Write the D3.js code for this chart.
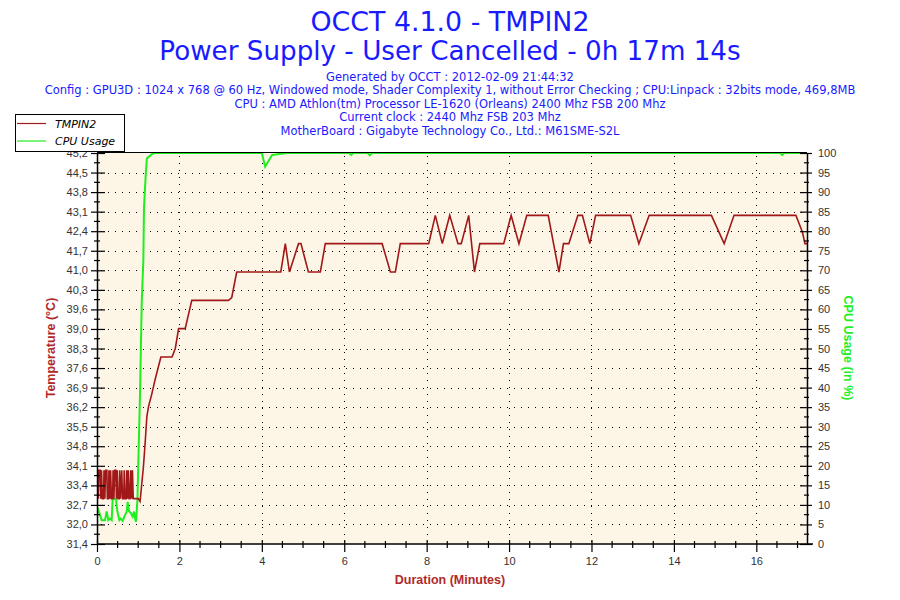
<!DOCTYPE html>
<html>
<head>
<meta charset="utf-8">
<script src="https://cdn.jsdelivr.net/npm/d3@7"></script>
<style>
  body { margin: 0; background: #fff; }
  svg text { font-family: "Liberation Sans", Arial, sans-serif; }
</style>
</head>
<body>
<svg id="chart" width="900" height="600"></svg>
<script>
// ---------- Data ----------
const titleLines = [
  'OCCT 4.1.0 - TMPIN2',
  'Power Supply - User Cancelled - 0h 17m 14s'
];
const infoLines = [
  'Generated by OCCT : 2012-02-09 21:44:32',
  'Config : GPU3D : 1024 x 768 @ 60 Hz, Windowed mode, Shader Complexity 1, without Error Checking ; CPU:Linpack : 32bits mode, 469,8MB',
  'CPU : AMD Athlon(tm) Processor LE-1620 (Orleans) 2400 Mhz FSB 200 Mhz',
  'Current clock : 2440 Mhz FSB 203 Mhz',
  'MotherBoard : Gigabyte Technology Co., Ltd.: M61SME-S2L'
];
const seriesNames = ['TMPIN2', 'CPU Usage'];

const tempTickLabels = ['31,4','32,0','32,7','33,4','34,1','34,8','35,5','36,2','36,9','37,6',
  '38,3','39,0','39,6','40,3','41,0','41,7','42,4','43,1','43,8','44,5','45,2'];
const cpuTickValues = [0,5,10,15,20,25,30,35,40,45,50,55,60,65,70,75,80,85,90,95,100];
const timeTickValues = [0,2,4,6,8,10,12,14,16];

// [minutes, °C]
const tempSeries = [
  [0,34],[0.02,34],[0.03,33],[0.05,34],[0.08,34],[0.09,33],[0.11,34],[0.13,33],[0.16,33],[0.17,34],
  [0.19,33],[0.21,34],[0.24,34],[0.25,33],[0.28,33],[0.29,34],[0.31,33],[0.33,34],[0.35,33],[0.38,33],
  [0.39,34],[0.41,33],[0.43,34],[0.46,34],[0.47,33],[0.49,34],[0.51,33],[0.54,33],[0.55,34],[0.57,33],
  [0.60,34],[0.62,33],[0.65,33],[0.66,34],[0.68,33],[0.71,33],[0.72,34],[0.74,33],[0.76,34],[0.78,33],
  [0.80,33],[0.82,34],[0.84,33],[0.86,34],[0.88,33],[0.92,33],[1.00,33],[1.045,32.9],
  [1.125,34.1],[1.17,35.0],[1.21,35.9],[1.25,36.25],[1.33,36.7],[1.41,37.2],[1.55,38.0],[1.82,38.0],
  [1.90,38.3],[1.98,39.0],[2.14,39.0],[2.30,40.0],[3.19,40.0],[3.27,40.1],[3.39,41.0],[4.46,41.0],
  [4.57,42.0],[4.67,41.0],[4.89,42.0],[4.95,42.0],[5.13,41.0],[5.42,41.0],[5.54,42.0],[6.92,42.0],
  [7.12,41.0],[7.24,41.0],[7.36,42.0],[8.05,42.0],[8.21,43.0],[8.38,42.0],[8.56,43.0],[8.76,42.0],
  [8.84,42.0],[9.02,43.0],[9.16,41.0],[9.29,42.0],[9.87,42.0],[10.05,43.0],[10.24,42.0],[10.43,43.0],
  [10.95,43.0],[11.21,41.0],[11.32,42.0],[11.45,42.0],[11.67,43.0],[11.78,43.0],[11.96,42.0],[12.10,43.0],
  [12.95,43.0],[13.15,42.0],[13.40,43.0],[14.91,43.0],[15.22,42.0],[15.46,43.0],[16.96,43.0],[17.12,42.4],
  [17.18,42.0],[17.23,42.0]
];

// [minutes, %]
const cpuSeries = [
  [0.016,9.2],[0.073,7.4],[0.113,6.1],[0.194,6.1],[0.235,8.3],[0.275,6.1],[0.316,6.5],[0.356,6.1],
  [0.381,11.7],[0.462,11.4],[0.494,8.3],[0.543,6.1],[0.575,6.5],[0.624,5.9],[0.664,7.0],[0.721,8.3],
  [0.745,10.8],[0.778,8.3],[0.818,8.0],[0.867,7.0],[0.899,8.3],[0.932,6.1],[0.948,5.7],[0.981,11.3],
  [1.045,39],[1.086,62],[1.125,72.6],[1.14,86],[1.18,94],[1.21,98.6],[1.33,99.7],[1.41,100],
  [4.00,100],[4.08,96.5],[4.25,99.5],[4.61,100],[6.12,100],[6.17,99.5],[6.22,100],[6.57,100],
  [6.62,99.4],[6.67,100],[16.58,100],[16.63,99.5],[16.68,100],[17.23,100]
];

// ---------- Layout ----------
const CONFIG = {
  left: 97, right: 807, top: 153, bottom: 544,
  plotBg: '#fdf6e7',
  tempColour: '#a01818',
  cpuColour: '#1eef1e',
  titleColour: '#1a1aff',
  axisTitleTemp: '#b02a2a',
  tickColour: '#333'
};

const svg = d3.select('#chart');
const C = CONFIG;

const x = d3.scaleLinear().domain([0, 17.23]).range([C.left, C.right]);
const TEMP_MIN = 31.4, TEMP_MAX = 45.2;
const yTemp = d3.scaleLinear().domain([TEMP_MIN, TEMP_MAX]).range([C.bottom, C.top]);
const yCpu  = d3.scaleLinear().domain([0, 100]).range([C.bottom, C.top]);

const tempStep = (TEMP_MAX - TEMP_MIN) / (tempTickLabels.length - 1);
const tempTickValues = tempTickLabels.map((_, i) => TEMP_MIN + i * tempStep);

// ---------- Titles ----------
svg.selectAll('text.title')
  .data(titleLines)
  .enter().append('text')
    .attr('class', 'title')
    .attr('x', 450)
    .attr('y', (d, i) => 31 + i * 29)
    .attr('text-anchor', 'middle')
    .style('font-family', '"DejaVu Sans", Verdana, sans-serif')
    .style('font-size', (d, i) => i === 0 ? '26.8px' : '26.2px')
    .attr('fill', C.titleColour)
    .text(d => d);

svg.selectAll('text.info')
  .data(infoLines)
  .enter().append('text')
    .attr('class', 'info')
    .attr('x', 450)
    .attr('y', (d, i) => 80.5 + i * 13.6)
    .attr('text-anchor', 'middle')
    .style('font-family', '"DejaVu Sans", Verdana, sans-serif')
    .style('font-size', '11.5px')
    .attr('fill', C.titleColour)
    .text(d => d);

// ---------- Plot background ----------
svg.append('rect')
  .attr('x', C.left).attr('y', C.top)
  .attr('width', C.right - C.left).attr('height', C.bottom - C.top)
  .attr('fill', C.plotBg);

// ---------- Grid (dotted) ----------
const grid = svg.append('g').attr('stroke', '#000').attr('stroke-width', 1)
  .attr('stroke-dasharray', '1,6').attr('shape-rendering', 'crispEdges');

grid.selectAll('line.h')
  .data(tempTickValues.slice(1, -1))
  .enter().append('line')
    .attr('x1', C.left + 4).attr('x2', C.right)
    .attr('y1', d => Math.round(yTemp(d)) + 0.5).attr('y2', d => Math.round(yTemp(d)) + 0.5);

grid.selectAll('line.v')
  .data(timeTickValues.slice(1))
  .enter().append('line')
    .attr('y1', C.top + 3).attr('y2', C.bottom)
    .attr('x1', d => Math.round(x(d)) + 0.5).attr('x2', d => Math.round(x(d)) + 0.5);

// ---------- Series ----------
svg.append('clipPath').attr('id', 'plotClip')
  .append('rect')
    .attr('x', C.left).attr('y', C.top - 2)
    .attr('width', C.right - C.left + 1).attr('height', C.bottom - C.top + 2);

const lineTemp = d3.line().x(d => x(d[0])).y(d => yTemp(d[1]));
const lineCpu  = d3.line().x(d => x(d[0])).y(d => yCpu(d[1]));

const series = svg.append('g').attr('clip-path', 'url(#plotClip)');
series.append('path')
  .datum(cpuSeries)
  .attr('d', lineCpu)
  .attr('fill', 'none')
  .attr('stroke', C.cpuColour)
  .attr('stroke-width', 2);

series.append('path')
  .datum(tempSeries)
  .attr('d', lineTemp)
  .attr('fill', 'none')
  .attr('stroke', C.tempColour)
  .attr('stroke-width', 1.6);

// top frame line
svg.append('line')
  .attr('x1', C.left).attr('x2', C.right)
  .attr('y1', C.top - 0.5).attr('y2', C.top - 0.5)
  .attr('stroke', '#000').attr('stroke-width', 1.2);

// ---------- Axes ----------
function styleAxis(g){
  g.select('.domain').attr('stroke', '#000').attr('stroke-width', 1.5);
  g.selectAll('.tick line').attr('stroke', '#000').attr('stroke-width', 1.2);
  g.selectAll('.tick text')
    .style('font-family', '"Liberation Sans", Arial, sans-serif')
    .style('font-size', '11px')
    .attr('fill', C.tickColour);
}

// left (temperature)
const leftAxis = svg.append('g')
  .attr('transform', `translate(${C.left},0)`)
  .call(d3.axisLeft(yTemp).tickValues(tempTickValues)
    .tickFormat((d, i) => tempTickLabels[i]).tickSize(6).tickSizeOuter(0).tickPadding(3))
  .call(styleAxis);
leftAxis.selectAll('.tick').append('line')
  .attr('x1', 0).attr('x2', 8).attr('stroke', '#000').attr('stroke-width', 1.2);
leftAxis.selectAll('line.minor')
  .data(tempTickValues.slice(0, -1))
  .enter().append('line')
    .attr('class', 'minor')
    .attr('x1', -3).attr('x2', 3)
    .attr('y1', d => yTemp(d + tempStep / 2)).attr('y2', d => yTemp(d + tempStep / 2))
    .attr('stroke', '#000').attr('stroke-width', 1.2);

// right (cpu usage)
const rightAxis = svg.append('g')
  .attr('transform', `translate(${C.right},0)`)
  .call(d3.axisRight(yCpu).tickValues(cpuTickValues).tickSize(5).tickSizeOuter(0).tickPadding(6))
  .call(styleAxis);
rightAxis.selectAll('.tick').append('line')
  .attr('x1', 0).attr('x2', -7).attr('stroke', '#000').attr('stroke-width', 1.2);
rightAxis.selectAll('line.minor')
  .data(cpuTickValues.slice(0, -1))
  .enter().append('line')
    .attr('class', 'minor')
    .attr('x1', -3).attr('x2', 2)
    .attr('y1', d => yCpu(d + 2.5)).attr('y2', d => yCpu(d + 2.5))
    .attr('stroke', '#000').attr('stroke-width', 1.2);

// bottom (duration)
const bottomAxis = svg.append('g')
  .attr('transform', `translate(0,${C.bottom})`)
  .call(d3.axisBottom(x).tickValues(timeTickValues).tickSize(8).tickSizeOuter(0).tickPadding(5))
  .call(styleAxis);
bottomAxis.select('.domain').attr('d', `M${C.left},0H${C.right + 6}`);
bottomAxis.selectAll('.tick').append('line')
  .attr('y1', 0).attr('y2', -4).attr('stroke', '#000').attr('stroke-width', 1.2);
const minorTimes = d3.range(0.5, 17.01, 0.5).filter(t => t % 2 !== 0);
bottomAxis.selectAll('line.minor')
  .data(minorTimes)
  .enter().append('line')
    .attr('class', 'minor')
    .attr('x1', d => x(d)).attr('x2', d => x(d))
    .attr('y1', -3).attr('y2', 4)
    .attr('stroke', '#000').attr('stroke-width', 1.2);

// ---------- Axis titles ----------
svg.append('text')
  .attr('transform', 'translate(55,348) rotate(-90)')
  .attr('text-anchor', 'middle')
  .style('font-size', '12.5px').style('font-weight', 'bold')
  .attr('fill', C.axisTitleTemp)
  .text('Temperature (°C)');

svg.append('text')
  .attr('transform', 'translate(844,348) rotate(90)')
  .attr('text-anchor', 'middle')
  .style('font-size', '12.5px').style('font-weight', 'bold')
  .attr('fill', C.cpuColour)
  .text('CPU Usage (in %)');

svg.append('text')
  .attr('x', 450).attr('y', 584)
  .attr('text-anchor', 'middle')
  .style('font-size', '12.5px').style('font-weight', 'bold')
  .attr('fill', C.axisTitleTemp)
  .text('Duration (Minutes)');

// ---------- Legend ----------
const legend = svg.append('g');
legend.append('rect')
  .attr('x', 15.5).attr('y', 114.5).attr('width', 109).attr('height', 37)
  .attr('fill', '#fff').attr('stroke', '#000').attr('stroke-width', 1);
const legendColours = [C.tempColour, C.cpuColour];
const item = legend.selectAll('g.item')
  .data(seriesNames)
  .enter().append('g')
    .attr('class', 'item')
    .attr('transform', (d, i) => `translate(0,${123.5 + i * 17.5})`);
item.append('line')
  .attr('x1', 17).attr('x2', 46)
  .attr('stroke', (d, i) => legendColours[i]).attr('stroke-width', 1.2);
item.append('text')
  .attr('x', 55).attr('y', 4)
  .style('font-family', '"DejaVu Sans", Verdana, sans-serif')
  .style('font-size', '11px').style('font-style', 'italic')
  .attr('fill', '#000')
  .text(d => d);
</script>
</body>
</html>
